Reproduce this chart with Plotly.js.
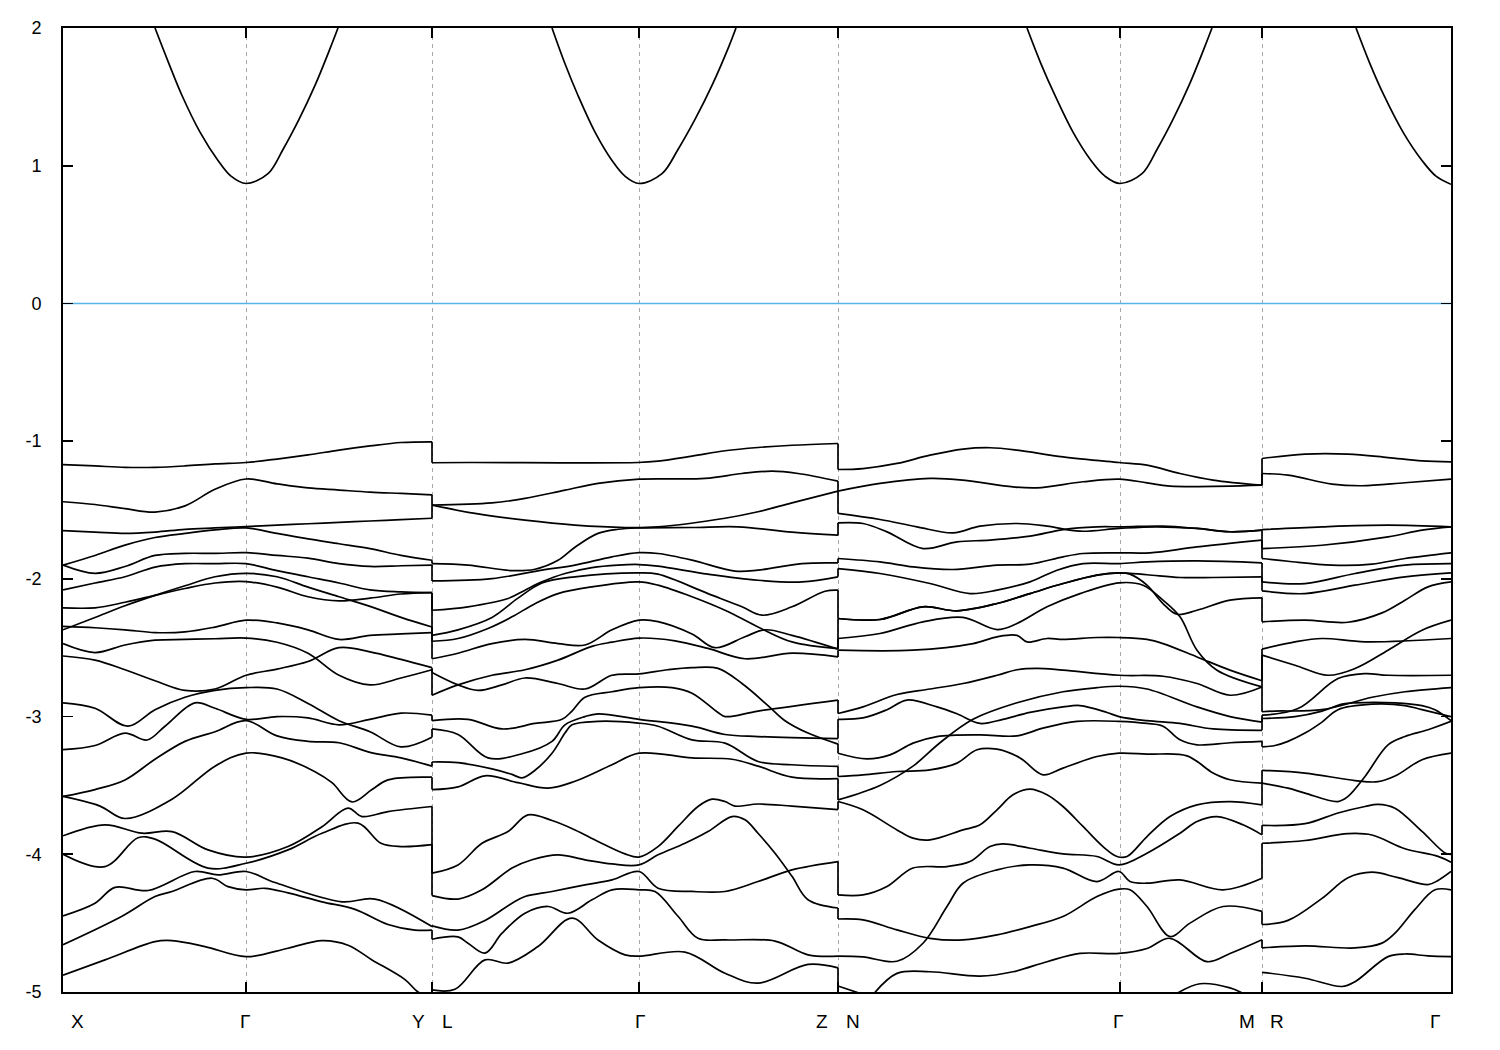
<!DOCTYPE html>
<html><head><meta charset="utf-8">
<script src="https://cdn.plot.ly/plotly-3.0.1.min.js"></script>
<style>html,body{margin:0;padding:0;background:#fff}#chart{width:1500px;height:1050px}</style>
</head><body><div id="chart"></div>
<script>
// k-path positions (arbitrary path units)
const kBoundaries = [369, 775, 1199];
const kTicks = [183, 369, 576, 775, 1057, 1199];
const kRange = [0, 1388];
const kLabels = ['X','Γ','Y','L','Γ','Z','N','Γ','M','R','Γ'];
const kLabelPos = [14, 182, 355, 384, 577, 759, 790, 1055, 1184, 1214, 1372];
const yTicks = [2, 1, 0, -1, -2, -3, -4, -5];
const yTickText = ['2', '1', '0', '-1', '-2', '-3', '-4', '-5'];
const fermiLevel = 0;

const G1 = [0,32,62,92,122,152,183,214,245,276,307,338,369];

// Segment X - Γ - Y : each band = [k, E]
const seg1Bands = [
  [G1, [-1.17,-1.18,-1.19,-1.19,-1.18,-1.165,-1.155,-1.13,-1.10,-1.065,-1.035,-1.01,-1.005]],
  [G1, [-1.44,-1.46,-1.49,-1.515,-1.47,-1.35,-1.275,-1.31,-1.34,-1.355,-1.37,-1.38,-1.39]],
  [G1, [-1.65,-1.66,-1.67,-1.66,-1.64,-1.63,-1.62,-1.61,-1.60,-1.59,-1.58,-1.57,-1.56]],
  [G1, [-1.90,-1.83,-1.755,-1.70,-1.67,-1.645,-1.63,-1.67,-1.71,-1.745,-1.78,-1.83,-1.865]],
  [G1, [-1.90,-1.96,-1.91,-1.83,-1.815,-1.815,-1.81,-1.83,-1.85,-1.89,-1.91,-1.905,-1.90]],
  [G1, [-2.08,-2.03,-1.985,-1.915,-1.89,-1.89,-1.89,-1.94,-1.985,-2.03,-2.08,-2.095,-2.10]],
  [G1, [-2.21,-2.21,-2.17,-2.12,-2.07,-2.03,-2.02,-2.06,-2.13,-2.16,-2.14,-2.11,-2.10]],
  [G1, [-2.37,-2.28,-2.195,-2.12,-2.05,-1.985,-1.96,-1.985,-2.06,-2.13,-2.20,-2.28,-2.35]],
  [G1, [-2.345,-2.355,-2.37,-2.39,-2.385,-2.35,-2.30,-2.32,-2.37,-2.44,-2.41,-2.40,-2.39]],
  [G1, [-2.47,-2.535,-2.48,-2.445,-2.44,-2.435,-2.43,-2.46,-2.54,-2.70,-2.77,-2.72,-2.66]],
  [G1, [-2.56,-2.59,-2.66,-2.74,-2.81,-2.80,-2.70,-2.655,-2.60,-2.50,-2.53,-2.585,-2.645]],
  [[0,32,65,92,122,152,183,214,245,276,307,338,369], [-2.90,-2.94,-3.07,-2.95,-2.86,-2.81,-2.79,-2.80,-2.905,-3.03,-3.11,-3.22,-3.15]],
  [[0,32,62,84,102,132,152,183,214,245,276,307,338,369], [-3.24,-3.21,-3.12,-3.17,-3.07,-2.90,-2.94,-3.02,-3.00,-3.01,-3.06,-3.02,-2.975,-2.99]],
  [G1, [-3.58,-3.53,-3.46,-3.31,-3.18,-3.11,-3.03,-3.14,-3.18,-3.19,-3.26,-3.30,-3.36]],
  [[0,37,62,109,152,183,219,252,269,289,309,325,369], [-3.58,-3.65,-3.74,-3.60,-3.36,-3.265,-3.30,-3.40,-3.48,-3.62,-3.53,-3.46,-3.44]],
  [[0,42,79,109,145,183,225,259,285,299,325,369], [-3.866,-3.786,-3.847,-3.835,-3.968,-4.02,-3.944,-3.80,-3.665,-3.726,-3.69,-3.653]],
  [[0,42,75,92,145,183,225,259,295,318,338,369], [-4.00,-4.09,-3.88,-3.89,-4.10,-4.065,-3.968,-3.847,-3.774,-3.92,-3.944,-3.93]],
  [[0,32,52,85,132,155,183,212,279,312,369], [-4.447,-4.355,-4.24,-4.263,-4.125,-4.15,-4.125,-4.205,-4.345,-4.325,-4.525]],
  [[0,59,92,109,149,165,183,202,225,259,292,325,352,369], [-4.657,-4.45,-4.307,-4.27,-4.174,-4.235,-4.258,-4.247,-4.28,-4.345,-4.40,-4.51,-4.55,-4.55]],
  [[0,42,92,109,142,183,225,259,285,309,342,355,369], [-4.878,-4.767,-4.634,-4.627,-4.67,-4.743,-4.682,-4.627,-4.66,-4.767,-4.91,-5.0,-5.05]]
];

// Segment L - Γ - Z
const seg2Bands = [
  [[369,405,575,595,629,662,695,729,775], [-1.157,-1.155,-1.155,-1.145,-1.109,-1.07,-1.046,-1.03,-1.017]],
  [[369,429,462,502,535,576,642,679,709,735,775], [-1.465,-1.448,-1.416,-1.356,-1.307,-1.276,-1.271,-1.235,-1.218,-1.235,-1.29]],
  [[369,412,462,512,562,595,662,695,729,775], [-1.465,-1.525,-1.574,-1.61,-1.627,-1.622,-1.56,-1.513,-1.448,-1.363]],
  [[369,405,449,472,495,512,535,555,576,629,675,729,775], [-1.889,-1.90,-1.94,-1.93,-1.865,-1.77,-1.67,-1.64,-1.63,-1.627,-1.622,-1.66,-1.683]],
  [[369,429,479,512,549,576,595,629,672,695,739,775], [-2.015,-1.998,-1.937,-1.90,-1.84,-1.81,-1.816,-1.864,-1.944,-1.937,-1.889,-1.884]],
  [[369,405,445,462,479,502,529,555,576,595,645,695,739,775], [-2.228,-2.203,-2.143,-2.082,-2.022,-1.961,-1.918,-1.90,-1.896,-1.908,-1.966,-2.01,-2.022,-1.985]],
  [[369,395,429,455,479,512,576,595,645,679,699,729,762,775], [-2.41,-2.37,-2.28,-2.14,-2.03,-1.985,-1.956,-1.966,-2.107,-2.203,-2.264,-2.203,-2.09,-2.082]],
  [[369,395,425,449,472,495,529,576,595,629,662,695,729,775], [-2.453,-2.433,-2.36,-2.276,-2.18,-2.107,-2.058,-2.022,-2.046,-2.13,-2.228,-2.349,-2.458,-2.506]],
  [[369,395,429,462,495,522,549,576,595,629,652,682,702,729,775], [-2.58,-2.54,-2.47,-2.44,-2.47,-2.48,-2.37,-2.30,-2.31,-2.40,-2.50,-2.42,-2.37,-2.41,-2.51]],
  [[369,395,429,462,495,529,549,576,612,645,682,729,775], [-2.845,-2.77,-2.70,-2.66,-2.59,-2.49,-2.46,-2.43,-2.45,-2.505,-2.58,-2.54,-2.567]],
  [[369,395,415,439,462,495,522,549,576,605,629,655,679,705,722,745,775], [-2.68,-2.77,-2.81,-2.77,-2.72,-2.76,-2.80,-2.70,-2.69,-2.66,-2.645,-2.65,-2.76,-2.92,-3.03,-3.12,-3.20]],
  [[369,405,439,472,499,509,522,549,576,609,629,655,662,695,775], [-3.03,-3.02,-3.09,-3.05,-3.02,-2.96,-2.86,-2.82,-2.79,-2.79,-2.83,-2.97,-3.00,-2.96,-2.88]],
  [[369,395,425,459,489,502,522,535,576,629,662,695,775], [-3.09,-3.13,-3.30,-3.27,-3.18,-3.06,-3.0,-2.98,-3.02,-3.07,-3.13,-3.145,-3.16]],
  [[369,395,429,449,459,472,489,502,509,535,575,595,629,662,695,729,775], [-3.33,-3.335,-3.38,-3.42,-3.445,-3.39,-3.266,-3.12,-3.06,-3.035,-3.047,-3.07,-3.169,-3.193,-3.326,-3.35,-3.362]],
  [[369,395,422,455,485,512,549,576,629,669,695,729,775], [-3.53,-3.51,-3.43,-3.48,-3.52,-3.47,-3.35,-3.266,-3.30,-3.31,-3.36,-3.44,-3.45]],
  [[369,395,419,445,465,489,512,535,562,576,595,615,635,649,662,672,695,729,775], [-4.137,-4.077,-3.92,-3.835,-3.714,-3.755,-3.823,-3.907,-3.997,-4.02,-3.944,-3.798,-3.653,-3.60,-3.617,-3.65,-3.635,-3.65,-3.675]],
  [[369,395,419,449,469,495,522,549,576,595,622,645,669,682,695,712,729,745,775], [-4.30,-4.325,-4.258,-4.10,-4.04,-4.004,-4.04,-4.07,-4.077,-4.004,-3.92,-3.835,-3.726,-3.75,-3.847,-3.992,-4.16,-4.33,-4.39]],
  [[369,395,422,449,462,489,522,549,576,595,629,662,695,729,775], [-4.52,-4.55,-4.48,-4.355,-4.307,-4.27,-4.222,-4.186,-4.125,-4.246,-4.27,-4.27,-4.198,-4.113,-4.053]],
  [[369,395,405,422,439,462,485,505,529,549,576,592,615,635,662,712,745,775], [-4.617,-4.60,-4.646,-4.718,-4.573,-4.428,-4.379,-4.428,-4.331,-4.258,-4.258,-4.27,-4.45,-4.61,-4.622,-4.63,-4.73,-4.74]],
  [[369,392,422,445,475,509,535,562,576,622,662,695,745,775], [-4.985,-4.98,-4.767,-4.79,-4.67,-4.464,-4.622,-4.73,-4.74,-4.71,-4.864,-4.936,-4.80,-4.825]]
];

// Segment N - Γ - M
const seg3Bands = [
  [[775,800,834,867,900,927,954,1000,1056,1084,1117,1150,1199], [-1.206,-1.199,-1.162,-1.102,-1.058,-1.048,-1.065,-1.114,-1.155,-1.174,-1.235,-1.283,-1.32]],
  [[775,817,867,900,950,974,1020,1056,1084,1107,1199], [-1.363,-1.307,-1.271,-1.283,-1.332,-1.339,-1.295,-1.276,-1.303,-1.327,-1.32]],
  [[775,817,854,890,917,954,984,1017,1056,1093,1134,1167,1199], [-1.525,-1.569,-1.622,-1.666,-1.617,-1.598,-1.617,-1.654,-1.634,-1.622,-1.634,-1.658,-1.646]],
  [[775,800,824,860,894,927,967,1000,1034,1060,1100,1134,1167,1199], [-1.593,-1.598,-1.659,-1.78,-1.731,-1.719,-1.69,-1.642,-1.622,-1.622,-1.617,-1.634,-1.658,-1.646]],
  [[775,817,850,890,934,967,1000,1020,1056,1087,1134,1199], [-1.852,-1.877,-1.913,-1.932,-1.90,-1.893,-1.84,-1.816,-1.811,-1.811,-1.768,-1.719]],
  [[775,817,867,907,934,967,994,1020,1056,1084,1134,1199], [-1.925,-1.961,-2.034,-2.107,-2.082,-2.022,-1.937,-1.889,-1.889,-1.877,-1.87,-1.884]],
  [[775,817,860,894,934,967,1000,1034,1056,1084,1117,1150,1199], [-2.288,-2.295,-2.203,-2.232,-2.179,-2.107,-2.034,-1.973,-1.956,-1.97,-1.99,-1.99,-1.985]],
  [[775,817,860,894,934,967,1000,1034,1056,1067,1084,1100,1114,1134,1167,1199], [-2.288,-2.295,-2.203,-2.232,-2.179,-2.107,-2.034,-1.973,-1.956,-1.966,-2.046,-2.179,-2.257,-2.228,-2.155,-2.138]],
  [[775,817,860,900,934,954,984,1017,1056,1080,1100,1117,1134,1154,1199], [-2.433,-2.397,-2.312,-2.28,-2.368,-2.324,-2.203,-2.107,-2.029,-2.046,-2.155,-2.276,-2.518,-2.663,-2.784]],
  [[775,850,910,934,954,964,984,1000,1034,1056,1084,1100,1134,1167,1199], [-2.518,-2.518,-2.47,-2.421,-2.41,-2.458,-2.433,-2.44,-2.426,-2.426,-2.44,-2.47,-2.567,-2.663,-2.74]],
  [[775,800,834,867,900,934,954,974,1000,1056,1100,1134,1167,1199], [-2.978,-2.93,-2.84,-2.80,-2.76,-2.70,-2.66,-2.65,-2.663,-2.70,-2.707,-2.76,-2.845,-2.785]],
  [[775,800,824,844,874,894,917,940,967,1000,1017,1044,1056,1084,1117,1150,1199], [-3.02,-3.01,-2.95,-2.88,-2.93,-2.98,-3.05,-3.02,-2.97,-2.93,-2.92,-2.97,-3.0,-3.03,-3.05,-3.09,-3.10]],
  [[775,817,850,877,910,954,1000,1034,1056,1084,1134,1167,1199], [-3.605,-3.50,-3.36,-3.19,-3.02,-2.90,-2.82,-2.79,-2.78,-2.80,-2.93,-3.0,-3.04]],
  [[775,804,827,850,874,917,954,980,1014,1056,1084,1100,1117,1134,1167,1199], [-3.266,-3.307,-3.278,-3.193,-3.145,-3.133,-3.14,-3.084,-3.035,-3.035,-3.05,-3.07,-3.169,-3.205,-3.19,-3.18]],
  [[775,800,834,867,894,914,934,957,980,1000,1034,1056,1084,1124,1150,1167,1199], [-3.435,-3.423,-3.399,-3.387,-3.338,-3.241,-3.237,-3.30,-3.423,-3.374,-3.29,-3.266,-3.273,-3.285,-3.41,-3.459,-3.483]],
  [[775,800,834,850,867,900,917,934,950,967,984,1000,1020,1040,1054,1064,1084,1107,1134,1167,1199], [-3.617,-3.677,-3.823,-3.883,-3.895,-3.823,-3.786,-3.677,-3.568,-3.527,-3.568,-3.653,-3.798,-3.944,-4.016,-4.016,-3.871,-3.726,-3.641,-3.617,-3.641]],
  [[775,800,824,850,884,907,927,940,967,1000,1034,1056,1084,1117,1134,1154,1180,1199], [-4.295,-4.295,-4.234,-4.10,-4.089,-4.053,-3.944,-3.925,-3.956,-3.997,-4.016,-4.077,-3.992,-3.847,-3.762,-3.726,-3.786,-3.859]],
  [[775,800,834,867,900,934,967,1000,1034,1056,1067,1084,1107,1127,1160,1199], [-4.47,-4.476,-4.549,-4.61,-4.622,-4.585,-4.525,-4.452,-4.307,-4.253,-4.258,-4.379,-4.597,-4.50,-4.379,-4.415]],
  [[775,800,834,860,884,900,934,967,1000,1034,1056,1067,1084,1117,1160,1199], [-4.74,-4.745,-4.777,-4.646,-4.379,-4.21,-4.113,-4.077,-4.10,-4.198,-4.125,-4.198,-4.21,-4.186,-4.258,-4.174]],
  [[775,797], [-4.956,-5.01]],
  [[810,834,867,917,950,984,1017,1056,1084,1107,1144,1167,1199], [-5.02,-4.865,-4.853,-4.885,-4.853,-4.78,-4.72,-4.72,-4.684,-4.61,-4.78,-4.72,-4.62]],
  [[1114,1137,1167,1180], [-5.01,-4.94,-4.97,-5.01]]
];

// Segment R - Γ
const seg4Bands = [
  [[1199,1242,1285,1325,1359,1388], [-1.126,-1.094,-1.094,-1.119,-1.143,-1.15]],
  [[1199,1225,1269,1299,1342,1388], [-1.235,-1.247,-1.312,-1.324,-1.302,-1.276]],
  [[1199,1259,1325,1388], [-1.642,-1.622,-1.61,-1.622]],
  [[1199,1259,1325,1359,1388], [-1.78,-1.756,-1.695,-1.646,-1.622]],
  [[1199,1225,1269,1309,1342,1388], [-1.852,-1.872,-1.90,-1.893,-1.852,-1.811]],
  [[1199,1242,1292,1342,1388], [-2.022,-2.034,-1.961,-1.90,-1.889]],
  [[1199,1242,1292,1342,1388], [-2.087,-2.107,-2.046,-1.985,-1.956]],
  [[1199,1242,1285,1319,1342,1365,1388], [-2.312,-2.30,-2.315,-2.247,-2.155,-2.058,-2.022]],
  [[1199,1232,1259,1302,1388], [-2.51,-2.457,-2.433,-2.457,-2.433]],
  [[1199,1232,1265,1292,1325,1359,1388], [-2.554,-2.627,-2.70,-2.651,-2.518,-2.373,-2.30]],
  [[1199,1235,1275,1302,1325,1388], [-2.99,-2.942,-2.724,-2.688,-2.70,-2.70]],
  [[1199,1212,1259,1309,1342,1388], [-2.965,-2.96,-2.95,-2.86,-2.82,-2.79]],
  [[1199,1232,1259,1279,1292,1332,1359,1372,1388], [-3.014,-3.0,-2.96,-2.91,-2.90,-2.90,-2.92,-2.95,-3.03]],
  [[1199,1212,1225,1242,1259,1275,1309,1342,1359,1388], [-3.22,-3.21,-3.18,-3.12,-3.04,-2.95,-2.91,-2.92,-2.95,-3.0]],
  [[1199,1242,1292,1315,1332,1359,1388], [-3.39,-3.41,-3.465,-3.473,-3.432,-3.314,-3.266]],
  [[1199,1225,1242,1275,1285,1302,1325,1342,1365,1388], [-3.483,-3.52,-3.556,-3.617,-3.58,-3.435,-3.205,-3.145,-3.096,-3.035]],
  [[1199,1242,1275,1302,1315,1332,1359,1382,1388], [-3.79,-3.778,-3.70,-3.653,-3.637,-3.665,-3.834,-3.99,-4.0]],
  [[1199,1242,1285,1309,1342,1375,1388], [-3.92,-3.90,-3.85,-3.86,-3.96,-4.015,-4.057]],
  [[1199,1225,1259,1285,1309,1335,1365,1375,1388], [-4.51,-4.48,-4.32,-4.17,-4.13,-4.17,-4.22,-4.19,-4.125]],
  [[1199,1242,1292,1319,1332,1352,1372,1388], [-4.68,-4.665,-4.68,-4.645,-4.573,-4.40,-4.258,-4.258]],
  [[1199,1242,1279,1292,1325,1342,1365,1388], [-4.857,-4.90,-4.96,-4.925,-4.743,-4.724,-4.738,-4.743]]
];

// Conduction band
const cbBands = [
  [[92,106,119,137,155,168,183,205,220,236,252,267,275], [2.0,1.74,1.51,1.244,1.038,0.924,0.871,0.942,1.118,1.336,1.583,1.85,2.0]],
  [[489,502,515,532,549,562,576,599,615,632,649,665,673], [2.0,1.74,1.51,1.244,1.038,0.924,0.871,0.942,1.118,1.336,1.583,1.85,2.0]],
  [[964,978,992,1010,1028,1042,1057,1079,1094,1110,1126,1141,1149], [2.0,1.74,1.51,1.244,1.038,0.924,0.871,0.942,1.118,1.336,1.583,1.85,2.0]],
  [[1293,1307,1321,1340,1359,1373,1388], [2.0,1.74,1.51,1.244,1.038,0.924,0.865]]
];

const segments = [seg1Bands, seg2Bands, seg3Bands, seg4Bands];
const traces = [];
const lineStyle = {color: '#000', width: 1.7, shape: 'spline', smoothing: 1.0};
const cbStyle = {color: '#000', width: 1.7, shape: 'spline', smoothing: 1.0};

// Fermi level
traces.push({x: kRange, y: [fermiLevel, fermiLevel], mode: 'lines',
  line: {color: '#56b4e9', width: 1.6}, hoverinfo: 'skip', showlegend: false});

segments.forEach(seg => seg.forEach(b => {
  traces.push({x: b[0], y: b[1], mode: 'lines', line: lineStyle, hoverinfo: 'skip', showlegend: false});
}));
cbBands.forEach(b => {
  traces.push({x: b[0], y: b[1], mode: 'lines', line: cbStyle, hoverinfo: 'skip', showlegend: false});
});

// vertical jumps where a band index continues into the next segment
const cx = [], cy = [];
kBoundaries.forEach((kb, i) => {
  const prev = segments[i], next = segments[i + 1];
  const ends = prev.filter(b => b[0][b[0].length - 1] === kb).map(b => b[1][b[1].length - 1]).sort((a, b) => b - a);
  const starts = next.filter(b => b[0][0] === kb).map(b => b[1][0]).sort((a, b) => b - a);
  const n = Math.min(ends.length, starts.length);
  for (let j = 0; j < n; j++) { cx.push(kb, kb, null); cy.push(ends[j], starts[j], null); }
});
traces.push({x: cx, y: cy, mode: 'lines', line: {color: '#000', width: 1.7}, hoverinfo: 'skip', showlegend: false});

const font = {family: 'Liberation Sans, Arial, sans-serif', size: 18, color: '#000'};
const xFont = {family: 'Liberation Sans, Arial, sans-serif', size: 19, color: '#000'};
const annotations = kLabels.map((t, i) => ({
  x: kLabelPos[i], xref: 'x', y: 0, yref: 'paper', yshift: -29, yanchor: 'middle', xanchor: 'center',
  text: t, showarrow: false, font: xFont
}));

const layout = {
  width: 1500, height: 1050,
  margin: {l: 63, r: 49, t: 28, b: 58},
  paper_bgcolor: '#fff', plot_bgcolor: '#fff',
  showlegend: false,
  xaxis: {
    range: kRange, tickvals: kTicks, showticklabels: false,
    ticks: 'inside', ticklen: 10, tickwidth: 1.8, tickcolor: '#000',
    showline: true, linecolor: '#000', linewidth: 1.8, mirror: 'allticks',
    showgrid: true, gridcolor: '#a8a8a8', gridwidth: 1, griddash: '4px,4px',
    zeroline: false, fixedrange: true
  },
  yaxis: {
    range: [-5, 2], tickvals: yTicks, ticktext: yTickText,
    ticks: 'inside', ticklen: 10, tickwidth: 1.8, tickcolor: '#000',
    showline: true, linecolor: '#000', linewidth: 1.8, mirror: 'allticks',
    showgrid: false, zeroline: false, tickfont: font, ticklabelstandoff: 16, fixedrange: true
  },
  annotations: annotations
};

Plotly.newPlot('chart', traces, layout, {staticPlot: true, displayModeBar: false});
</script>
</body></html>
